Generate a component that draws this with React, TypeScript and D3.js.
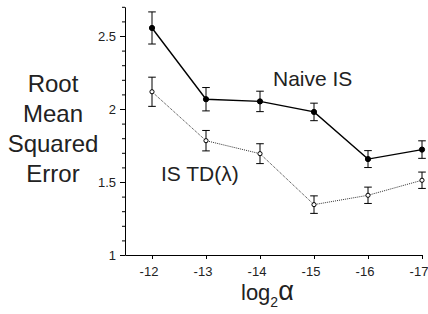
import React, { useEffect, useRef } from 'react'
import * as d3 from 'd3'

// log2(alpha) settings on the x axis
const alphas = [-12, -13, -14, -15, -16, -17]

// Naive IS: mean RMSE and error bar half-widths
const naiveMeans = [2.555, 2.067, 2.052, 1.98, 1.657, 1.722]
const naiveErrs = [0.11, 0.08, 0.07, 0.06, 0.058, 0.06]

// IS TD(lambda): mean RMSE and error bar half-widths
const tdMeans = [2.118, 1.783, 1.694, 1.345, 1.409, 1.512]
const tdErrs = [0.1, 0.07, 0.068, 0.06, 0.056, 0.056]

const yMajorTicks = [1, 1.5, 2, 2.5]
const yLabelLines = ['Root', 'Mean', 'Squared', 'Error']

const FONT = 'Liberation Sans, Arial, sans-serif'

const App = () => {
  const chartRef = useRef<SVGSVGElement>(null)

  useEffect(() => {
    const svg = d3.select(chartRef.current)
    svg.selectAll('*').remove()

    const x = d3.scaleLinear().domain([-11.5, -17]).range([125, 422])
    const y = d3.scaleLinear().domain([1, 2.7]).range([255, 6.8])

    // X axis
    const xAxis = svg
      .append('g')
      .attr('transform', `translate(0,${y(1)})`)
      .call(d3.axisBottom(x).tickValues(alphas).tickSizeInner(4).tickSizeOuter(0).tickFormat((d) => String(d)))
    xAxis.select('.domain').attr('stroke', '#000')
    xAxis.selectAll('.tick line').attr('stroke', '#000')
    xAxis
      .selectAll('.tick text')
      .attr('font-family', FONT)
      .attr('font-size', 13)
      .attr('fill', '#222')
      .attr('dx', -3.5)
      .attr('y', 12)

    // Y axis with minor ticks every 0.1
    const yTicks = d3.range(10, 28).map((v) => v / 10)
    const yAxis = svg
      .append('g')
      .attr('transform', `translate(${x(-11.5)},0)`)
      .call(
        d3
          .axisLeft(y)
          .tickValues(yTicks)
          .tickSizeOuter(0)
          .tickSizeInner(3)
          .tickFormat((d) => (yMajorTicks.includes(+d) ? String(d) : ''))
      )
    yAxis.select('.domain').attr('stroke', '#000')
    yAxis
      .selectAll('.tick line')
      .attr('stroke', '#000')
      .attr('x2', (d: any) => (yMajorTicks.includes(+d) ? -5 : -3))
    yAxis
      .selectAll('.tick text')
      .attr('font-family', FONT)
      .attr('font-size', 13)
      .attr('fill', '#222')
      .attr('x', -9)

    const series = [
      { means: tdMeans, errs: tdErrs, filled: false, stroke: '#333', width: 1, dash: '1,1' },
      { means: naiveMeans, errs: naiveErrs, filled: true, stroke: '#000', width: 1.4, dash: null },
    ]

    series.forEach((s) => {
      const pts = alphas.map((a, i) => ({ a, m: s.means[i], e: s.errs[i] }))
      const line = d3
        .line<{ a: number; m: number }>()
        .x((d) => x(d.a))
        .y((d) => y(d.m))
      svg
        .append('path')
        .datum(pts)
        .attr('d', line)
        .attr('fill', 'none')
        .attr('stroke', s.stroke)
        .attr('stroke-width', s.width)
        .attr('stroke-dasharray', s.dash)

      const g = svg.append('g').attr('stroke', '#000').attr('stroke-width', 1)
      const bars = g.selectAll('g').data(pts).join('g')
      bars
        .append('line')
        .attr('x1', (d) => x(d.a))
        .attr('x2', (d) => x(d.a))
        .attr('y1', (d) => y(d.m + d.e))
        .attr('y2', (d) => y(d.m - d.e))
      bars
        .append('line')
        .attr('x1', (d) => x(d.a) - 3.8)
        .attr('x2', (d) => x(d.a) + 3.8)
        .attr('y1', (d) => y(d.m + d.e))
        .attr('y2', (d) => y(d.m + d.e))
      bars
        .append('line')
        .attr('x1', (d) => x(d.a) - 3.8)
        .attr('x2', (d) => x(d.a) + 3.8)
        .attr('y1', (d) => y(d.m - d.e))
        .attr('y2', (d) => y(d.m - d.e))
      bars
        .append('circle')
        .attr('cx', (d) => x(d.a))
        .attr('cy', (d) => y(d.m))
        .attr('r', s.filled ? 2.6 : 2.1)
        .attr('fill', s.filled ? '#000' : '#fff')
    })

    // series labels
    svg
      .append('text')
      .attr('x', 273)
      .attr('y', 86)
      .attr('font-family', FONT)
      .attr('font-size', 21)
      .attr('fill', '#222')
      .text('Naive IS')
    svg
      .append('text')
      .attr('x', 161)
      .attr('y', 180.5)
      .attr('font-family', FONT)
      .attr('font-size', 21)
      .attr('fill', '#222')
      .text('IS TD(λ)')

    // y axis title
    svg
      .append('g')
      .selectAll('text')
      .data(yLabelLines)
      .join('text')
      .attr('x', 53)
      .attr('y', (_, i) => 92 + i * 30)
      .attr('text-anchor', 'middle')
      .attr('font-family', FONT)
      .attr('font-size', 24)
      .attr('fill', '#222')
      .text((d) => d)

    // x axis title log2(alpha)
    const xt = svg
      .append('text')
      .attr('x', 241)
      .attr('y', 300)
      .attr('font-family', FONT)
      .attr('font-size', 22)
      .attr('fill', '#222')
    xt.append('tspan').text('log')
    xt.append('tspan').attr('font-size', 14).attr('dy', 7).text('2')
    xt.append('tspan').attr('font-size', 27).attr('dy', -7).text('α')
  }, [])

  return (
    <svg
      ref={chartRef}
      width={428}
      height={314}
      style={{ position: 'absolute', left: 0, top: 0, background: '#fff' }}
    ></svg>
  )
}

export default App
